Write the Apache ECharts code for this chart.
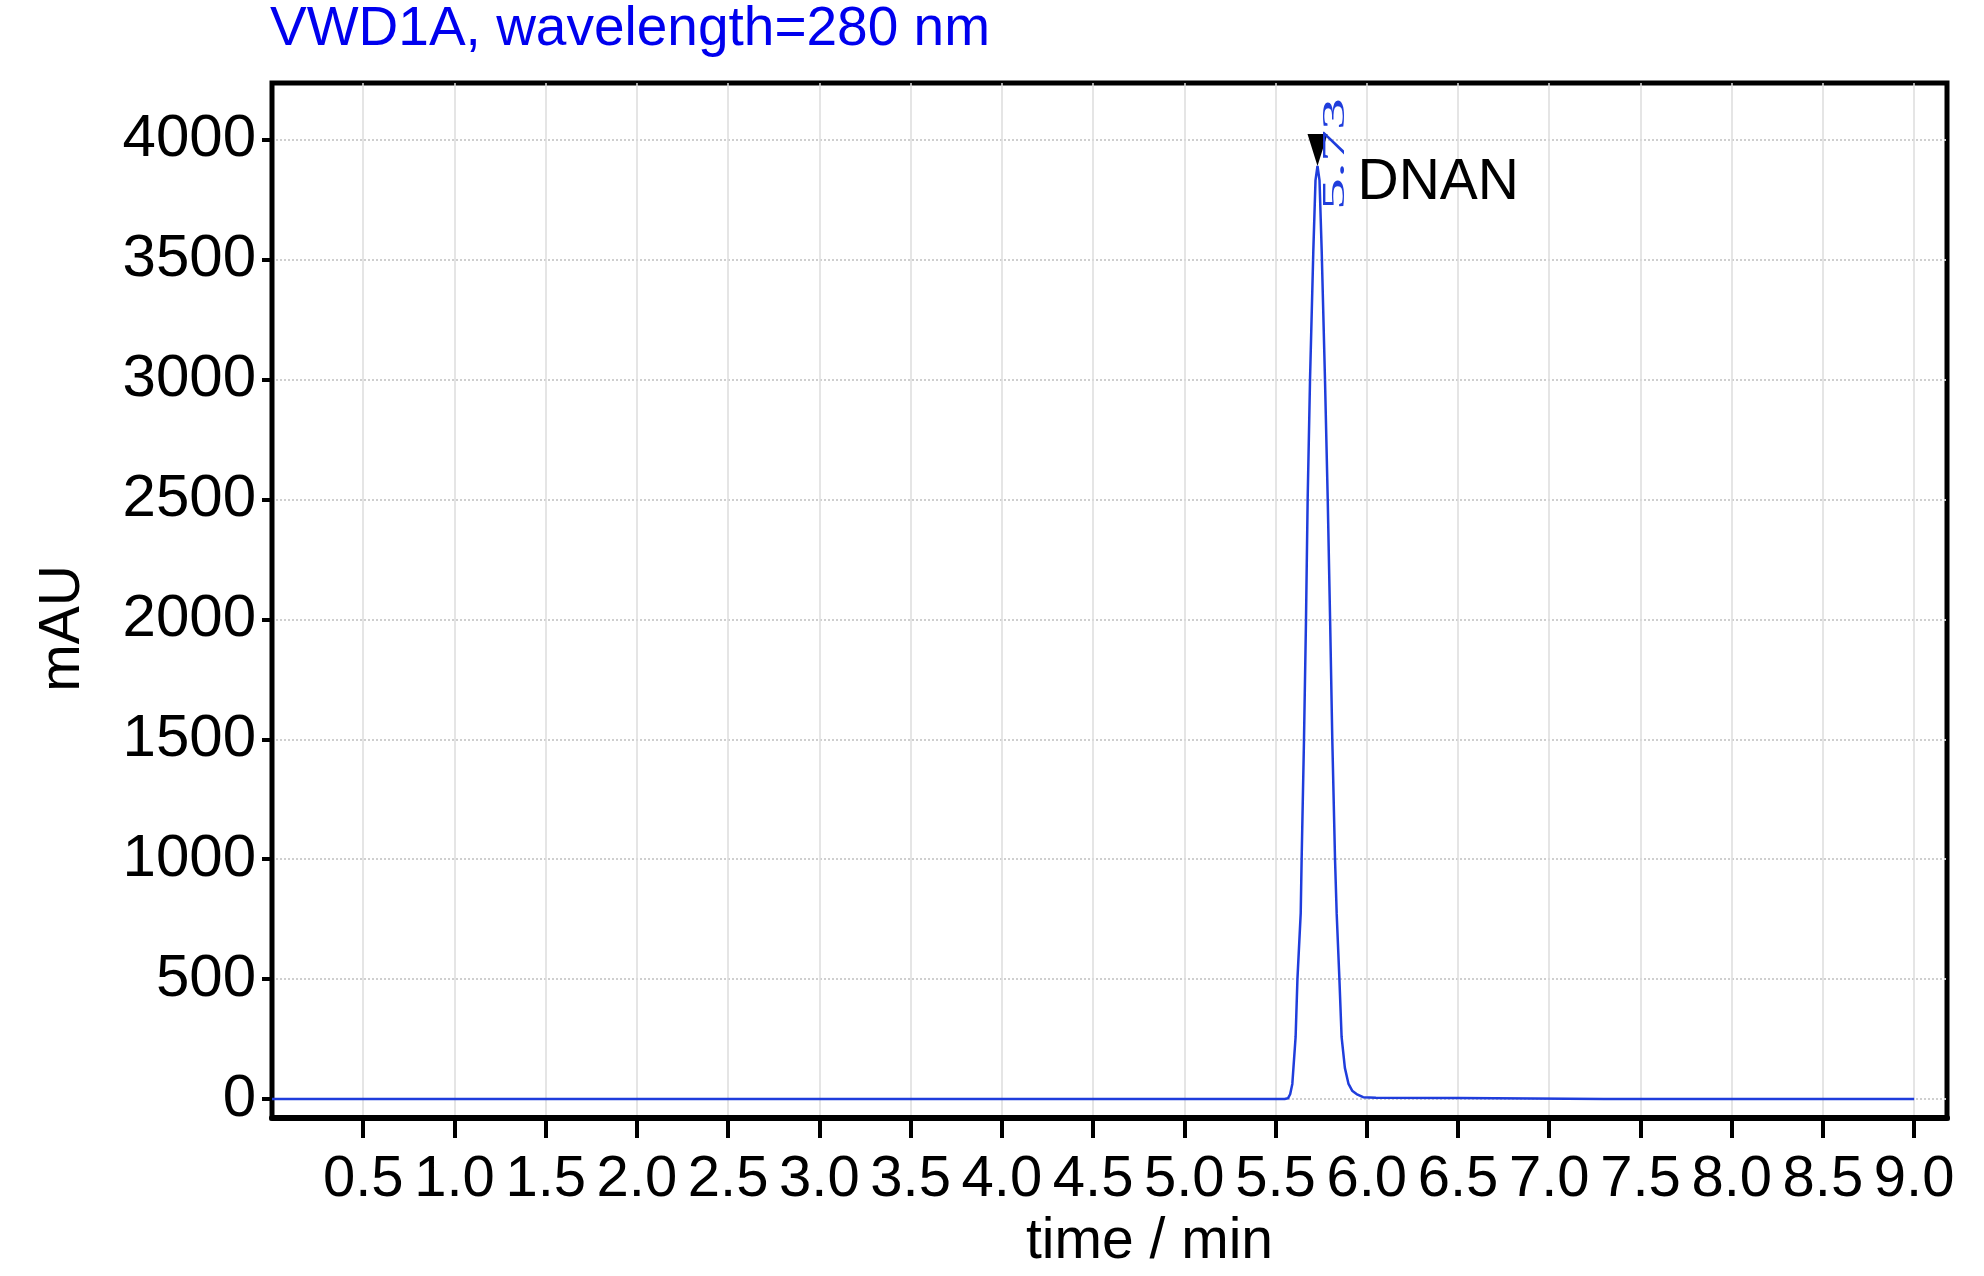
<!DOCTYPE html>
<html>
<head>
<meta charset="utf-8">
<script src="https://cdn.jsdelivr.net/npm/echarts@6/dist/echarts.min.js"></script>
<style>
  html, body { margin: 0; padding: 0; background: #fff; }
  #chart { width: 1984px; height: 1276px; }
</style>
</head>
<body>
<div id="chart"></div>
<script>
// ---- data ----
const titleText = 'VWD1A, wavelength=280 nm';
const xAxisName = 'time / min';
const yAxisName = 'mAU';
const xTickValues = [0.5, 1.0, 1.5, 2.0, 2.5, 3.0, 3.5, 4.0, 4.5, 5.0, 5.5, 6.0, 6.5, 7.0, 7.5, 8.0, 8.5, 9.0];
const yTickValues = [0, 500, 1000, 1500, 2000, 2500, 3000, 3500, 4000];
const timeMin = [0, 5.55, 5.568, 5.58, 5.592, 5.61, 5.62, 5.638, 5.643, 5.656, 5.667, 5.676, 5.689, 5.707, 5.719, 5.73, 5.741, 5.753, 5.771, 5.786, 5.799, 5.811, 5.826, 5.835, 5.85, 5.862, 5.88, 5.90, 5.92, 5.944, 5.98, 6.05, 6.5, 6.9, 7.3, 9.0];
const absorbance = [0, 0, 3, 20, 63, 259, 500, 775, 1000, 1500, 2000, 2500, 3000, 3535, 3830, 3890, 3830, 3535, 3000, 2500, 2000, 1500, 1000, 775, 500, 259, 130, 63, 35, 21, 8, 5, 4, 2, 0.5, 0];
const peakName = 'DNAN';
const peakTime = 5.73;
const peakHeight = 3890;
const peakTimeLabel = '5.73';

const FONT = '"Liberation Sans Narrow", "Liberation Sans", Arial, sans-serif';

const chart = echarts.init(document.getElementById('chart'), null, { renderer: 'canvas' });

const option = {
  backgroundColor: '#fff',
  animation: false,
  title: {
    text: titleText,
    left: 270,
    top: 2,
    padding: 0,
    textStyle: { color: '#0000ee', fontSize: 55, fontWeight: 'normal', fontFamily: FONT }
  },
  grid: {
    left: 272, right: 37, top: 83, bottom: 153,
    show: true, borderColor: '#000', borderWidth: 5, backgroundColor: '#fff'
  },
  xAxis: {
    type: 'value',
    min: 0, max: 9.18,
    minInterval: 0.5, maxInterval: 0.5,
    name: xAxisName,
    nameLocation: 'middle',
    nameGap: 96,
    nameTextStyle: { fontSize: 57, color: '#000', fontFamily: FONT, padding: [0, 0, 0, 80] },
    axisLine: { show: true, onZero: false, lineStyle: { color: '#000', width: 6 } },
    axisTick: { show: true, length: 20, customValues: xTickValues, lineStyle: { color: '#000', width: 4 } },
    axisLabel: {
      margin: 33, fontSize: 58, color: '#000', fontFamily: FONT,
      customValues: xTickValues,
      formatter: v => v.toFixed(1)
    },
    splitLine: { show: true, lineStyle: { color: '#dcdcdc', width: 1.5 } }
  },
  yAxis: {
    type: 'value',
    min: -79, max: 4236,
    minInterval: 500, maxInterval: 500,
    name: yAxisName,
    nameLocation: 'middle',
    nameRotate: 90,
    nameGap: 180,
    nameTextStyle: { fontSize: 57, color: '#000', fontFamily: FONT, padding: [0, 56, 0, 0] },
    axisLine: { show: true, onZero: false, lineStyle: { color: '#000', width: 4 } },
    axisTick: { show: true, length: 10, customValues: yTickValues, lineStyle: { color: '#000', width: 4 } },
    axisLabel: {
      margin: 16, fontSize: 60, color: '#000', fontFamily: FONT,
      customValues: yTickValues,
      formatter: v => String(v)
    },
    splitLine: { show: true, lineStyle: { color: '#cfcfcf', width: 2, type: [2, 2] } }
  },
  series: [{
    type: 'line',
    data: timeMin.map((t, i) => [t, absorbance[i]]),
    showSymbol: false,
    lineStyle: { color: '#1f3ddc', width: 2.5 },
    z: 3,
    markPoint: {
      silent: true,
      data: [{
        coord: [peakTime, peakHeight],
        symbol: 'path://M0,0L20,0L10,32Z',
        symbolSize: [20, 32],
        symbolOffset: [0, '-50%'],
        itemStyle: { color: '#000' },
        label: {
          show: true, position: 'right', distance: 30, offset: [0, 33],
          formatter: peakName, fontSize: 57, color: '#000', fontFamily: FONT
        }
      }]
    }
  }]
};

chart.setOption(option);

const p = chart.convertToPixel({ gridIndex: 0 }, [peakTime, peakHeight]);
chart.setOption({
  graphic: [{
    type: 'text',
    x: p[0] + 18,
    y: p[1] - 12,
    rotation: Math.PI / 2,
    scaleX: 2.0,
    z: 10,
    style: {
      text: peakTimeLabel,
      font: '32px "Liberation Serif", "Times New Roman", serif',
      fill: '#1f3ddc',
      align: 'center',
      verticalAlign: 'middle'
    }
  }]
});
</script>
</body>
</html>
